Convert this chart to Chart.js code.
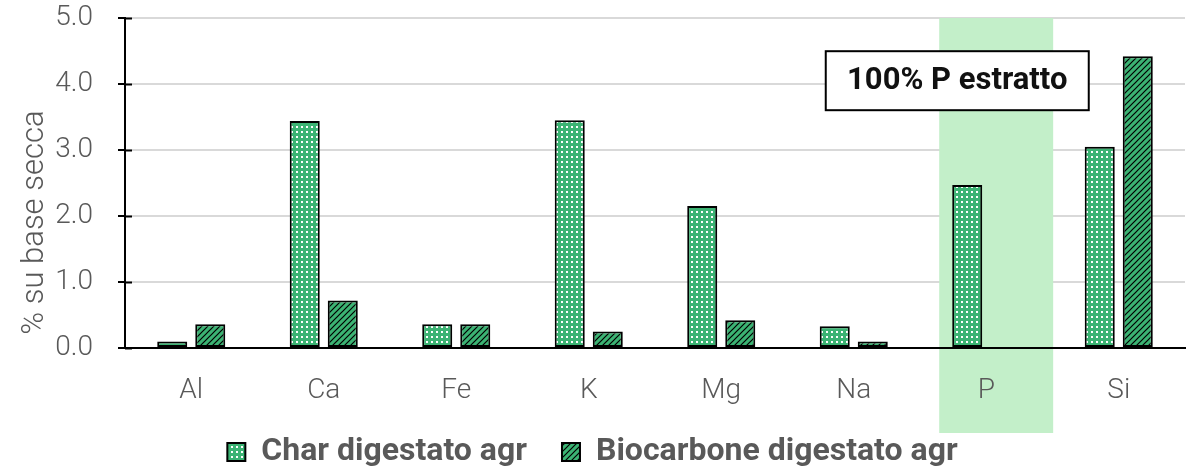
<!DOCTYPE html>
<html>
<head>
<meta charset="utf-8">
<script src="https://cdn.jsdelivr.net/npm/chart.js@4/dist/chart.umd.min.js"></script>
<style>
  html, body { margin: 0; padding: 0; background: #fff; }
  #wrap { width: 1196px; height: 470px; position: relative; }
</style>
</head>
<body>
<div id="wrap"><canvas id="chart"></canvas></div>
<script>
// Data
const categories = ['Al', 'Ca', 'Fe', 'K', 'Mg', 'Na', 'P', 'Si'];
const charValues = [0.10, 3.44, 0.36, 3.45, 2.15, 0.33, 2.47, 3.05];
const biocarboneValues = [0.36, 0.72, 0.36, 0.25, 0.42, 0.10, null, 4.42];
const seriesNames = ['Char digestato agr', 'Biocarbone digestato agr'];
const yTicks = [0, 1, 2, 3, 4, 5];
const yTitle = '% su base secca';
const highlightCategory = 'P';
const noteText = '100% P estratto';

const GREEN = '#3bb373';
const GRAY_TEXT = '#595959';
const FONT = 'Roboto';

// Dotted fill for the char series
function dotPattern() {
    const c = document.createElement('canvas');
    c.width = 5; c.height = 5;
    const g = c.getContext('2d');
    g.fillStyle = GREEN;
    g.fillRect(0, 0, 5, 5);
    g.fillStyle = '#ffffff';
    g.fillRect(1, 1, 2, 2);
    return g.createPattern(c, 'repeat');
}

// Diagonal hatch for the biocarbone series
function hatchPattern() {
    const s = 6;
    const c = document.createElement('canvas');
    c.width = s; c.height = s;
    const g = c.getContext('2d');
    g.fillStyle = GREEN;
    g.fillRect(0, 0, s, s);
    g.strokeStyle = '#000';
    g.lineWidth = 1.2;
    g.beginPath();
    g.moveTo(-1, s + 1); g.lineTo(s + 1, -1);
    g.moveTo(-1, 1); g.lineTo(1, -1);
    g.moveTo(s - 1, s + 1); g.lineTo(s + 1, s - 1);
    g.stroke();
    return g.createPattern(c, 'repeat');
}

// Light green band behind the P column, drawn under the bars
const highlightPlugin = {
    id: 'highlight',
    beforeLayout(chart) {
        // fix the legend block height
        const lg = chart.legend;
        if (lg && !lg._fixed) {
            const fit = lg.fit.bind(lg);
            lg.fit = function () { fit(); this.height = 45; };
            lg._fixed = true;
        }
    },
    afterLayout(chart) {
        // pull the legend row up a little (its padding is also the item gap)
        const lg = chart.legend;
        if (lg) { lg.top -= 24; }
    },
    beforeDatasetsDraw(chart) {
        const x = chart.scales.x;
        const idx = categories.indexOf(highlightCategory);
        const step = x.getPixelForValue(1) - x.getPixelForValue(0);
        const cx = x.getPixelForValue(idx);
        const ctx = chart.ctx;
        ctx.save();
        ctx.fillStyle = '#c3efc9';
        ctx.fillRect(cx - step * 0.355, chart.chartArea.top, step * 0.86, x.bottom + 8 - chart.chartArea.top);
        ctx.restore();
    }
};

// Short black tick marks crossing the y axis, axis title and the note box
const decorPlugin = {
    id: 'decor',
    afterDraw(chart) {
        const ctx = chart.ctx;
        const y = chart.scales.y;
        const x = chart.scales.x;
        const left = chart.chartArea.left;
        ctx.save();
        ctx.strokeStyle = '#000';
        ctx.lineWidth = 2;
        yTicks.forEach(v => {
            const py = Math.round(y.getPixelForValue(v)) + 0.5;
            ctx.beginPath();
            ctx.moveTo(left, py);
            ctx.lineTo(left + 7, py);
            ctx.stroke();
        });

        // y axis title, sits a bit below the axis middle
        ctx.save();
        ctx.translate(35, y.getPixelForValue(1.9));
        ctx.rotate(-Math.PI / 2);
        ctx.fillStyle = GRAY_TEXT;
        ctx.font = '300 31px ' + FONT;
        ctx.textAlign = 'center';
        ctx.textBaseline = 'middle';
        ctx.fillText(yTitle, 0, 0);
        ctx.restore();

        // note box
        const right = x.getPixelForValue(7) - 30;
        const w = 263, h = 59;
        const bx = right - w;
        const by = y.getPixelForValue(4.05) - h / 2;
        ctx.fillStyle = '#fff';
        ctx.fillRect(bx, by, w, h);
        ctx.lineWidth = 2;
        ctx.strokeRect(bx, by, w, h);
        ctx.fillStyle = '#111';
        ctx.font = 'bold 31px ' + FONT;
        ctx.textAlign = 'center';
        ctx.textBaseline = 'middle';
        ctx.fillText(noteText, bx + w / 2, by + h / 2 + 1);
        ctx.restore();
    }
};

const ctx = document.getElementById('chart').getContext('2d');
const chart = new Chart(ctx, {
    type: 'bar',
    data: {
        labels: categories,
        datasets: [
            {
                label: seriesNames[0],
                data: charValues,
                backgroundColor: dotPattern(),
                borderColor: '#000',
                borderWidth: 2,
                borderSkipped: false,
                categoryPercentage: 0.574,
                barPercentage: 0.79
            },
            {
                label: seriesNames[1],
                data: biocarboneValues,
                backgroundColor: hatchPattern(),
                borderColor: '#000',
                borderWidth: 2,
                borderSkipped: false,
                categoryPercentage: 0.574,
                barPercentage: 0.79
            }
        ]
    },
    options: {
        responsive: true,
        maintainAspectRatio: false,
        animation: false,
        layout: { padding: { top: 18, right: 11, left: 0, bottom: 0 } },
        plugins: {
            tooltip: { enabled: false },
            legend: {
                position: 'bottom',
                labels: {
                    color: GRAY_TEXT,
                    font: { family: FONT, size: 32, weight: 'bold' },
                    boxWidth: 18,
                    boxHeight: 18,
                    padding: 35
                }
            }
        },
        scales: {
            x: {
                grid: { display: false, drawTicks: false },
                border: { display: true, color: '#000', width: 2, z: 1 },
                ticks: {
                    z: 1,
                    color: GRAY_TEXT,
                    padding: 26,
                    font: { family: FONT, size: 28, weight: '300' }
                },
                afterFit(scale) { scale.height = 77; }
            },
            y: {
                min: 0,
                max: 5,
                afterBuildTicks(scale) { scale.ticks = yTicks.map(v => ({ value: v })); },
                grid: { color: '#d9d9d9', lineWidth: 2, tickColor: '#000', tickLength: 7 },
                border: { color: '#000', width: 2 },
                ticks: {
                    color: GRAY_TEXT,
                    padding: 25,
                    font: { family: FONT, size: 28, weight: '300' },
                    callback: v => Number(v).toFixed(1)
                },
                afterFit(scale) {
                    scale.width = 125;
                    scale.paddingTop = 0;
                    scale.paddingBottom = 0;
                }
            }
        }
    },
    plugins: [highlightPlugin, decorPlugin]
});
</script>
</body>
</html>
